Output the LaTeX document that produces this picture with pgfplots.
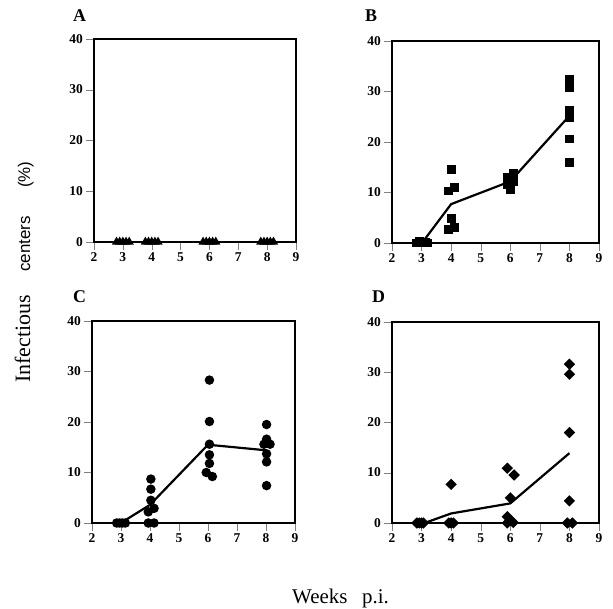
\documentclass[border=0pt]{standalone}
\usepackage{pgfplots}
\pgfplotsset{compat=1.18}
\usepackage{fontspec}
\setmainfont{Liberation Serif}
\setsansfont{Liberation Sans}
\pgfplotsset{panel/.style={
  scale only axis, anchor=south west,
  xmin=2, xmax=9, ymin=0, ymax=40,
  xtick={2,3,4,5,6,7,8,9}, ytick={0,10,20,30,40},
  tick align=outside, tick pos=left,
  major tick length=8bp,
  line width=1.6bp,
  typeset ticklabels with strut,
  tick label style={font=\fontsize{13.5}{13.5}\selectfont\bfseries},
  xticklabel style={yshift=2bp},
  yticklabel style={yshift=-1.5bp, xshift=1bp},
  /pgf/number format/assume math mode=true,
  clip=false,
}}
\begin{document}
\begin{tikzpicture}
\useasboundingbox (0,0) rectangle (613bp,609bp);
% Panel A
\begin{axis}[panel, at={(94bp,367bp)}, width=202bp, height=203bp]
\addplot[black, line width=2.2bp, no marks] coordinates {(3,0)(4,0)(6,0)(8,0)};
\addplot[only marks, mark=triangle*, mark size=3.8bp, black] coordinates {
(2.78,0)(2.89,0)(3.0,0)(3.11,0)(3.22,0)
(3.78,0)(3.89,0)(4.0,0)(4.11,0)(4.22,0)
(5.78,0)(5.89,0)(6.0,0)(6.11,0)(6.22,0)
(7.78,0)(7.89,0)(8.0,0)(8.11,0)(8.22,0)};
\end{axis}
% Panel B
\begin{axis}[panel, at={(392bp,366bp)}, width=207bp, height=202bp]
\addplot[black, line width=2.2bp, no marks] coordinates {(3.04,0.2)(4,7.7)(6,12.2)(8,25.2)};
\addplot[only marks, mark=square*, mark size=3.6bp, black] coordinates {
(2.83,0)(2.93,0.3)(3.03,0)(3.13,0.2)(3.2,0)
(3.9,10.3)(4.1,11.0)(4.02,14.5)(4.0,4.9)(3.9,2.6)(4.1,3.1)
(5.9,13.0)(6.1,13.8)(5.9,11.5)(6.0,10.5)(6.1,12.2)
(8,32.4)(8,30.8)(8,26.3)(8,25.3)(8,24.9)(8,20.6)(8,16.0)};
\end{axis}
% Panel C
\begin{axis}[panel, at={(92bp,86bp)}, width=203bp, height=202bp]
\addplot[black, line width=2.2bp, no marks] coordinates {(3.05,0.2)(4,3.6)(6,15.5)(8,14.4)};
\addplot[only marks, mark=*, mark size=3.9bp, black] coordinates {
(2.85,0)(2.95,0)(3.05,0)(3.15,0)
(4.03,8.7)(4.03,6.7)(4.03,4.5)(4.14,2.9)(3.94,2.2)(3.94,0)(4.14,0)
(6.05,28.3)(6.05,20.1)(6.05,15.6)(6.05,13.5)(6.05,11.8)(5.94,10.0)(6.15,9.2)
(8.02,19.5)(8.02,16.6)(7.93,15.6)(8.14,15.6)(8.02,13.7)(8.02,12.1)(8.02,7.4)};
\end{axis}
% Panel D
\begin{axis}[panel, at={(392bp,86bp)}, width=207bp, height=201bp]
\addplot[black, line width=2.2bp, no marks] coordinates {(3.1,0)(4,1.9)(6,3.9)(8,13.9)};
\addplot[only marks, mark=square*, mark size=3.2bp, mark options={rotate=45}, black] coordinates {
(2.84,0)(2.92,0)(3.0,0)(3.06,0)
(3.92,0)(4.0,0)(4.08,0)(4.0,7.7)
(5.9,10.9)(6.13,9.55)(6.0,5.0)(5.9,1.25)(6.0,0.5)(6.1,0.1)(5.9,0)
(8.0,31.6)(8.0,29.6)(8.0,18.0)(8.0,4.4)(7.93,0)(8.1,0)};
\end{axis}
% Panel letters
\node[anchor=base west, inner sep=0, font=\fontsize{18}{18}\selectfont\bfseries] at (73bp,587bp) {A};
\node[anchor=base west, inner sep=0, font=\fontsize{18}{18}\selectfont\bfseries] at (365bp,587bp) {B};
\node[anchor=base west, inner sep=0, font=\fontsize{18}{18}\selectfont\bfseries] at (73bp,306bp) {C};
\node[anchor=base west, inner sep=0, font=\fontsize{18}{18}\selectfont\bfseries] at (372bp,306bp) {D};
% Y label
\node[rotate=90, anchor=base west, inner sep=0, font=\fontsize{22}{22}\selectfont] at (30bp,226bp) {Infectious};
\node[rotate=90, anchor=base west, inner sep=0, font=\sffamily\fontsize{17}{17}\selectfont] at (30bp,337bp) {centers};
\node[rotate=90, anchor=base west, inner sep=0, font=\sffamily\fontsize{17}{17}\selectfont] at (30bp,421bp) {(\%)};
% X label
\node[anchor=base west, inner sep=0, font=\fontsize{21}{21}\selectfont] at (292bp,6bp) {Weeks};
\node[anchor=base west, inner sep=0, font=\fontsize{21}{21}\selectfont] at (362bp,6bp) {p.i.};
\end{tikzpicture}
\end{document}
